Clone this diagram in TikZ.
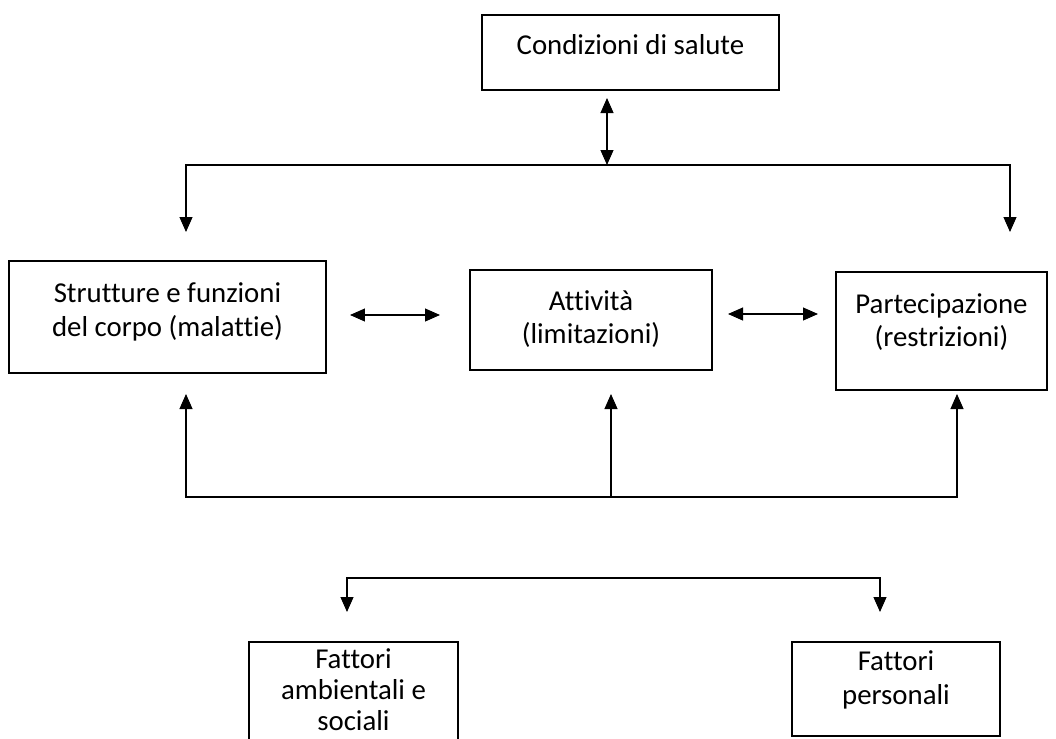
\documentclass[tikz,border=0pt]{standalone}
\usepackage{fontspec}
\setmainfont{Carlito}[Ligatures=NoCommon]
\usetikzlibrary{arrows.meta}
\newcommand{\icffont}{\fontsize{16.4}{19}\selectfont}

\begin{document}
\begin{tikzpicture}[x=0.02cm, y=-0.02cm,
    box/.style={draw, line width=0.9pt, inner sep=0pt, outer sep=0pt},
    txt/.style={align=center, font=\icffont, inner sep=0pt},
    conn/.style={line width=0.6pt},
    arr/.style={conn, -{Triangle[length=0.3cm, width=0.26cm]}},
    dbl/.style={conn, {Triangle[length=0.3cm, width=0.26cm]}-{Triangle[length=0.3cm, width=0.26cm]}}]
\useasboundingbox (0,0) rectangle (1056,738);

% boxes
\node[box, minimum width=5.94cm, minimum height=1.5cm]  (salute)    at (630.5,52.5) {};
\node[box, minimum width=6.34cm, minimum height=2.24cm] (strutture) at (167.5,317) {};
\node[box, minimum width=4.84cm, minimum height=2cm]    (attivita)  at (591,320) {};
\node[box, minimum width=4.22cm, minimum height=2.36cm] (partecip)  at (941.5,331) {};
\node[box, minimum width=4.18cm, minimum height=2.36cm] (ambient)   at (353.5,701) {};
\node[box, minimum width=4.16cm, minimum height=1.88cm] (personali) at (896,689) {};

% texts
\node[txt] (salute-t)    at ([yshift=0.15cm]salute.center)    {Condizioni di salute};
\node[txt] (strutture-t) at ([yshift=0.1cm]strutture.center)  {Strutture e funzioni\\del corpo (malattie)};
\node[txt] (attivita-t)  at ([yshift=0.02cm]attivita.center)  {Attività\\(limitazioni)};
\node[txt] (partecip-t)  at ([yshift=0.18cm]partecip.center)  {Partecipazione\\(restrizioni)};
\node[txt, font=\fontsize{16.4}{17.6}\selectfont]
           (ambient-t)   at ([yshift=0.22cm]ambient.center)   {Fattori\\ambientali e\\sociali};
\node[txt] (personali-t) at ([yshift=0.18cm]personali.center) {Fattori\\personali};

% connector ends
\coordinate (from-salute)   at (607,98);
\coordinate (hub-top)       at (607,165);
\coordinate (to-strutture)  at (186,232);
\coordinate (to-partecip)   at (1010,232);
\coordinate (sa-l) at (350,315);
\coordinate (sa-r) at (440,315);
\coordinate (ap-l) at (728,314);
\coordinate (ap-r) at (818,314);
\coordinate (hub-mid)       at (611,497);
\coordinate (up-strutture)  at (186,394);
\coordinate (up-attivita)   at (611,394);
\coordinate (up-partecip)   at (957,394);
\coordinate (hub-bot)       at (613,578);
\coordinate (to-ambient)    at (347,612);
\coordinate (to-personali)  at (880,612);

\draw[dbl] (from-salute) -- (hub-top);
\draw[arr] (hub-top) -| (to-strutture);
\draw[arr] (hub-top) -| (to-partecip);

\draw[dbl] (sa-l) -- (sa-r);
\draw[dbl] (ap-l) -- (ap-r);

\draw[arr] (hub-mid) -| (up-strutture);
\draw[arr] (hub-mid) -- (up-attivita);
\draw[arr] (hub-mid) -| (up-partecip);

\draw[arr] (hub-bot) -| (to-ambient);
\draw[arr] (hub-bot) -| (to-personali);
\end{tikzpicture}
\end{document}
